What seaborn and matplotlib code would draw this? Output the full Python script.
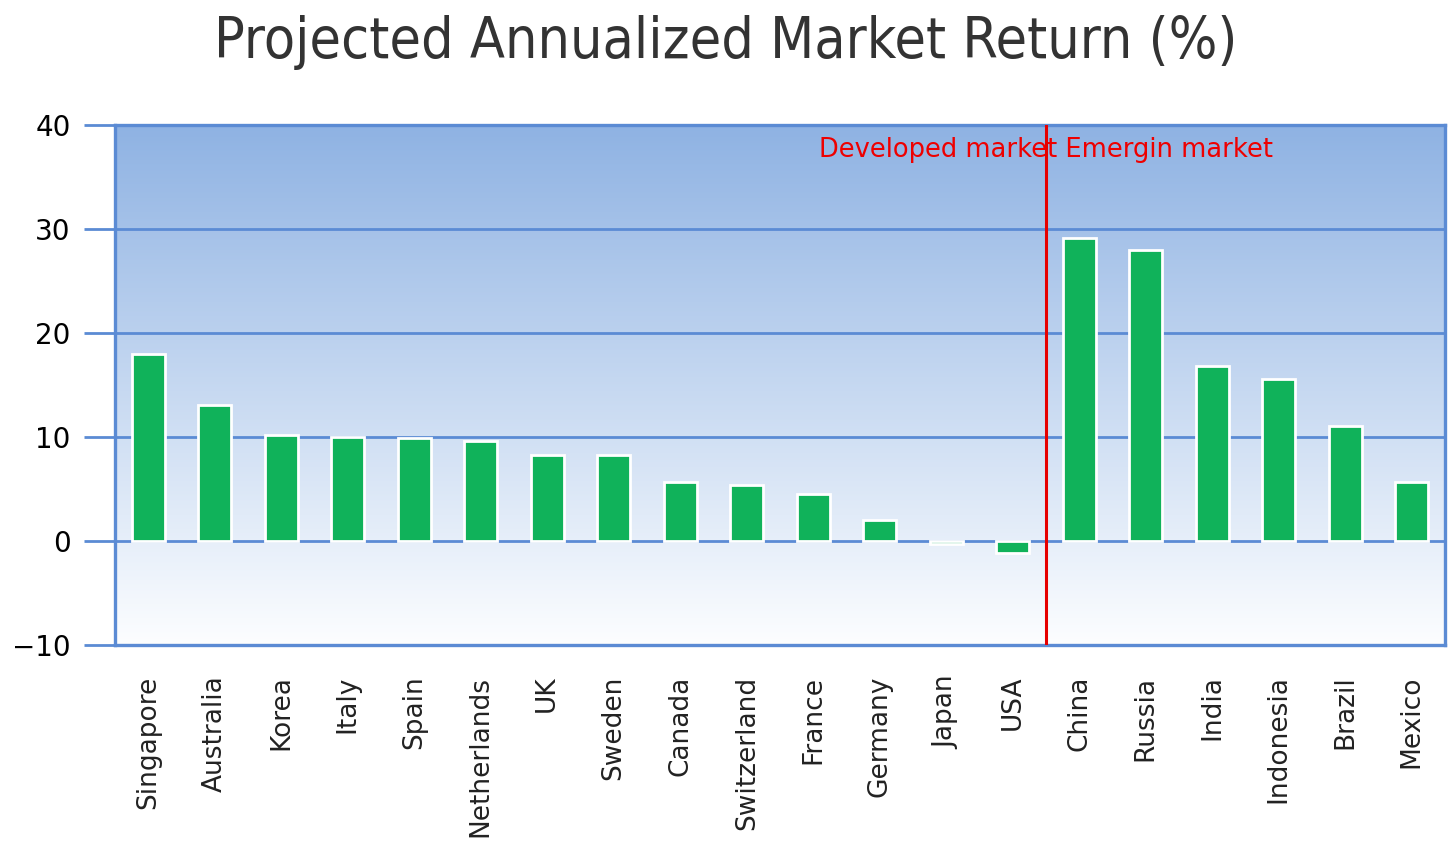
import numpy as np
import seaborn as sns
import matplotlib.pyplot as plt

countries = ["Singapore", "Australia", "Korea", "Italy", "Spain", "Netherlands",
             "UK", "Sweden", "Canada", "Switzerland", "France", "Germany",
             "Japan", "USA", "China", "Russia", "India", "Indonesia", "Brazil", "Mexico"]
returns = [18.0, 13.1, 10.2, 10.0, 9.9, 9.65, 8.25, 8.25, 5.65, 5.4, 4.55, 2.0,
           -0.3, -1.2, 29.1, 28.0, 16.8, 15.6, 11.1, 5.7]
y_ticks = [-10, 0, 10, 20, 30, 40]
split_label = "Developed market Emergin market"
title = "Projected Annualized Market Return (%)"

blue = "#5b8bd4"
sns.set_style("white")
plt.rcParams['font.family'] = ['DejaVu Sans']

fig = plt.figure(figsize=(14.52, 8.44), dpi=100)
ax = fig.add_axes([115 / 1452, 1 - 645 / 844, 1330 / 1452, 520 / 844])

# gradient background, blue at top fading to white
grad = np.linspace(0, 1, 256).reshape(-1, 1)
top = np.array([0.56, 0.70, 0.89])
bottom = np.array([0.99, 0.995, 1.0])
img = top * (1 - grad[..., None]) + bottom * grad[..., None]
ax.imshow(img, extent=[-0.5, len(countries) - 0.5, -10, 40], aspect="auto", zorder=0)

sns.barplot(x=countries, y=returns, color="#10b25a", saturation=1, width=0.5,
            edgecolor="white", linewidth=2, ax=ax, zorder=2)

ax.set_xlim(-0.5, len(countries) - 0.5)
ax.set_ylim(-10, 40)
ax.set_yticks(y_ticks)
ax.yaxis.grid(True, color=blue, linewidth=2, zorder=1)
ax.set_axisbelow(True)
for s in ax.spines.values():
    s.set_color(blue)
    s.set_linewidth(2.4)
    s.set_zorder(3)

ax.tick_params(axis="y", direction="out", length=22, width=2, color=blue,
               labelsize=20, pad=10, labelcolor="black", left=True)
ax.tick_params(axis="x", length=0, pad=22, labelsize=19)
plt.setp(ax.get_xticklabels(), rotation=90, va="top", ha="center", color="#222222")

# split between developed and emerging markets
ax.axvline(13.5, color="#e60000", linewidth=2.2, zorder=4)
ax.text(13.5, 37.6, split_label, color="#ee0000", fontsize=18.5, ha="center", va="center", zorder=5)

fig.text(0.5, 1 - 43 / 844, title, ha="center", va="center", fontsize=41,
         color="#333333", family=["DejaVu Sans"], fontstretch="condensed")

fig.savefig("out.png", dpi=100)
